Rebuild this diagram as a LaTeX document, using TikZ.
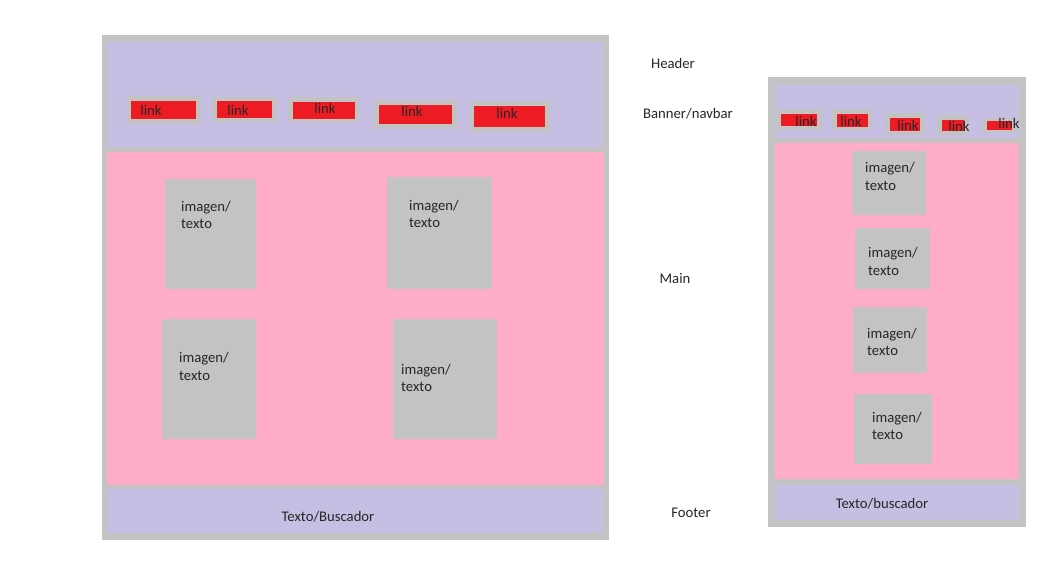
\documentclass[tikz,border=0pt]{standalone}
\usepackage{fontspec}
\setmainfont{Carlito}
\usepackage{tikz}

\definecolor{lavender}{RGB}{198,191,227}
\definecolor{pinkmain}{RGB}{255,172,201}
\definecolor{frame}{RGB}{195,195,195}
\definecolor{linkred}{RGB}{237,28,36}

\begin{document}
\begin{tikzpicture}[x=1pt, y=-1pt,
  block/.style={anchor=north west, inner sep=0pt, outer sep=0pt},
  outer/.style={block, fill=frame},
  bar/.style={block, fill=lavender},
  content/.style={block, fill=pinkmain},
  pad/.style={block, fill=frame},
  linkbox/.style={block, fill=linkred},
  imgbox/.style={block, fill=frame},
  txt/.style={inner sep=0pt, text=black!85, font=\fontsize{14.7}{17.5}\selectfont},
  imgtxt/.style={txt, anchor=west, align=left}]
  \useasboundingbox[fill=white] (0,0) rectangle (1059,560);

  % desktop version
  \node[outer, minimum width=507, minimum height=505] (frameL) at (102,35) {};
  \node[bar, minimum width=496, minimum height=105] (headerL) at (107,42) {};
  \node[content, minimum width=497, minimum height=333] (mainL) at (107,152) {};
  \node[bar, minimum width=496, minimum height=44] (footerL) at (107,489) {};
  \node[txt] (footerLtxt) at (328,517) {Texto/Buscador};

  % navbar links
  \node[pad, minimum width=74, minimum height=28] (padLa) at (127,96) {};
  \node[linkbox, minimum width=65, minimum height=18] (linkLa) at (131,101) {};
  \node[txt] (linkLatxt) at (151,110) {link};
  \node[pad, minimum width=65, minimum height=25] (padLb) at (212,97) {};
  \node[linkbox, minimum width=55, minimum height=17] (linkLb) at (217,101) {};
  \node[txt] (linkLbtxt) at (238,110) {link};
  \node[pad, minimum width=71, minimum height=25] (padLc) at (288,97) {};
  \node[linkbox, minimum width=62, minimum height=17] (linkLc) at (293,102) {};
  \node[txt] (linkLctxt) at (325,108) {link};
  \node[pad, minimum width=83, minimum height=29] (padLd) at (374,100) {};
  \node[linkbox, minimum width=73, minimum height=19] (linkLd) at (379,105) {};
  \node[txt] (linkLdtxt) at (412,111) {link};
  \node[pad, minimum width=80, minimum height=31] (padLe) at (470,101) {};
  \node[linkbox, minimum width=71, minimum height=21] (linkLe) at (474,106) {};
  \node[txt] (linkLetxt) at (507,113) {link};

  % image blocks
  \node[imgbox, minimum width=91, minimum height=110] (imgLa) at (165,179) {};
  \node[imgtxt] (imgLatxt) at (181,215) {imagen/\\texto};
  \node[imgbox, minimum width=105, minimum height=112] (imgLb) at (387,177) {};
  \node[imgtxt] (imgLbtxt) at (409,214) {imagen/\\texto};
  \node[imgbox, minimum width=94, minimum height=120] (imgLc) at (162,319) {};
  \node[imgtxt] (imgLctxt) at (179,366.5) {imagen/\\texto};
  \node[imgbox, minimum width=104, minimum height=120] (imgLd) at (393,319) {};
  \node[imgtxt] (imgLdtxt) at (401,378) {imagen/\\texto};

  % section names
  \node[txt] (lblHeader) at (673,63) {Header};
  \node[txt] (lblBanner) at (688,114) {Banner/navbar};
  \node[txt] (lblMain) at (675,278) {Main};
  \node[txt] (lblFooter) at (691,513) {Footer};

  % mobile version
  \node[outer, minimum width=258, minimum height=450] (frameR) at (768,77) {};
  \node[bar, minimum width=244, minimum height=53] (headerR) at (775,85) {};
  \node[content, minimum width=244, minimum height=336] (mainR) at (775,143) {};
  \node[bar, minimum width=244, minimum height=35] (footerR) at (775,485) {};
  \node[txt] (footerRtxt) at (882,504) {Texto/buscador};

  \node[pad, minimum width=45, minimum height=21] (padRa) at (777,109) {};
  \node[linkbox, minimum width=36, minimum height=12] (linkRa) at (781,114) {};
  \node[txt] (linkRatxt) at (806,121) {link};
  \node[pad, minimum width=40, minimum height=21] (padRb) at (832,109) {};
  \node[linkbox, minimum width=31, minimum height=13] (linkRb) at (837,114) {};
  \node[txt] (linkRbtxt) at (851,121) {link};
  \node[pad, minimum width=40, minimum height=22] (padRc) at (885,113) {};
  \node[linkbox, minimum width=30, minimum height=13] (linkRc) at (890,118) {};
  \node[txt] (linkRctxt) at (908,125) {link};
  \node[pad, minimum width=31, minimum height=20] (padRd) at (937,115) {};
  \node[linkbox, minimum width=22, minimum height=11] (linkRd) at (942,120) {};
  \node[txt] (linkRdtxt) at (959,126) {link};
  \node[pad, minimum width=34, minimum height=15] (padRe) at (983,118) {};
  \node[linkbox, minimum width=25, minimum height=9] (linkRe) at (987,121) {};
  \node[txt] (linkRetxt) at (1009,123) {link};

  \node[imgbox, minimum width=74, minimum height=64] (imgRa) at (852,151) {};
  \node[imgtxt] (imgRatxt) at (865,176.5) {imagen/\\texto};
  \node[imgbox, minimum width=75, minimum height=61] (imgRb) at (855,228) {};
  \node[imgtxt] (imgRbtxt) at (868,261.5) {imagen/\\texto};
  \node[imgbox, minimum width=74, minimum height=66] (imgRc) at (853,307) {};
  \node[imgtxt] (imgRctxt) at (867,342) {imagen/\\texto};
  \node[imgbox, minimum width=78, minimum height=70] (imgRd) at (854,394) {};
  \node[imgtxt] (imgRdtxt) at (872,426) {imagen/\\texto};
\end{tikzpicture}
\end{document}
